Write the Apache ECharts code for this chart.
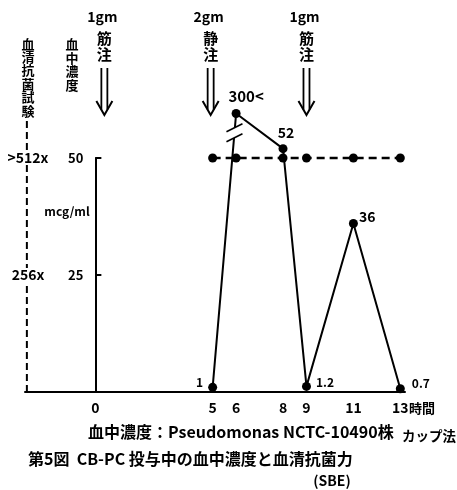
<!DOCTYPE html>
<html><head><meta charset="utf-8">
<script src="https://cdn.jsdelivr.net/npm/echarts@6/dist/echarts.min.js"></script>
<style>html,body{margin:0;padding:0;background:#fff}#c{width:457px;height:490px}</style>
</head><body><div id="c"></div>
<script>
const FONT = '"Noto Sans CJK JP", "Noto Sans", sans-serif';

// ---- data ----
// hours after the first dose
const hours = [5, 6, 8, 9, 11, 13];
// blood concentration, mcg/ml  (300 is off scale: "300<")
const bloodConc = [1, 300, 52, 1.2, 36, 0.7];
const bloodLabels = ['1', '300<', '52', '1.2', '36', '0.7'];
// serum antibacterial titre at the same times
const serumHours = [5, 6, 8, 9, 11, 13];
const serumTitre = ['>512x', '>512x', '>512x', '>512x', '>512x', '>512x'];
// titre scale labels and the level they share with the mcg/ml scale
const titreTicks = ['256x', '>512x'];
const titreLevels = [25, 50];
// x tick labels (hours)
const xTickLabels = [0, 5, 6, 8, 9, 11, 13];
// doses
const doseHours = [0, 5, 9];
const doseAmount = ['1gm', '2gm', '1gm'];
const doseRoute = ['筋注', '静注', '筋注'];

// ---- layout / style constants ----
const X_MIN = -3, X_MAX = 13.2;
const GRID = {left:25, right:52, top:158, bottom:98};
const PLOT_W = 457 - GRID.left - GRID.right;
const Y_AXIS_OFFSET = -(0 - X_MIN) * PLOT_W / (X_MAX - X_MIN); // puts mcg/ml axis at hour 0
const OFF_SCALE_POS = 59.5;        // where an off-scale value is drawn (above the break)
const SERUM_AXIS_HOUR = -2.92;     // position of dashed serum-titre axis
const SERUM_AXIS_TOP = 58;
const DOSE_NUDGE = [9, -2, 0];
const labelPlacement = [
  {position:'left', distance:5, offset:[0,-5], fontSize:12},
  {position:'top', distance:5, offset:[10,0], fontSize:15},
  {position:'top', distance:4, offset:[3,0], fontSize:14},
  {position:'right', distance:5, offset:[0,-4], fontSize:12},
  {position:'right', distance:1, offset:[0,-7], fontSize:14},
  {position:'right', distance:7, offset:[0,-5], fontSize:12}
];

const bloodPlot = bloodConc.map(v => v > 100 ? OFF_SCALE_POS : v);
const bloodData = hours.map((h, i) => ({
  value: [h, bloodPlot[i]],
  label: Object.assign({show:true, color:'#000', fontFamily:FONT, fontWeight:'bold',
    formatter: () => bloodLabels[i]}, labelPlacement[i])
}));
const serumData = serumHours.map((h, i) => [h, titreLevels[titreTicks.indexOf(serumTitre[i])]]);

const chart = echarts.init(document.getElementById('c'));

function txt(s, x, y, size, align, valign) {
  return {type:'text', x:x, y:y, silent:true, style:{text:s, fill:'#000', fontSize:size, fontFamily:FONT,
    fontWeight:'bold',
    align:align||'center', textAlign:align||'center',
    verticalAlign:valign||'middle', textVerticalAlign:valign||'middle'}};
}
function vtxt(s, x, y, size, lh) {
  const t = txt(s.split('').join('\n'), x, y, size, 'center', 'top');
  t.style.lineHeight = lh; t.style.textLineHeight = lh;
  return t;
}

const option = {
  animation: false,
  backgroundColor: '#fff',
  grid: {left:GRID.left, right:GRID.right, top:GRID.top, bottom:GRID.bottom, containLabel:false, outerBoundsMode:'none'},
  xAxis: {
    type:'value', min:X_MIN, max:X_MAX, interval:1,
    axisLine:{show:true, onZero:false, lineStyle:{color:'#000', width:2}},
    axisTick:{show:false}, splitLine:{show:false},
    axisLabel:{color:'#000', fontSize:14, fontFamily:FONT, fontWeight:'bold', margin:9,
      showMinLabel:true, showMaxLabel:true,
      formatter: v => { const r = Math.round(v*100)/100; return xTickLabels.indexOf(r) >= 0 ? String(r) : ''; }}
  },
  yAxis: [{
    type:'value', min:0, max:50, interval:25, position:'left', offset:Y_AXIS_OFFSET,
    axisLine:{show:true, onZero:false, lineStyle:{color:'#000', width:2}},
    axisTick:{show:true, inside:true, length:6, lineStyle:{color:'#000', width:2}},
    splitLine:{show:false},
    axisLabel:{color:'#000', fontSize:13, fontFamily:FONT, fontWeight:'bold', margin:12,
      formatter: v => v === 0 ? '' : String(v)}
  }, {
    type:'value', min:0, max:50, interval:25, position:'left', z:5,
    axisLine:{show:false, onZero:false}, axisTick:{show:false}, splitLine:{show:false},
    axisLabel:{color:'#000', fontSize:14, fontFamily:FONT, fontWeight:'bold', margin:-3, align:'center',
      backgroundColor:'#fff', padding:[0,1],
      formatter: v => { const k = titreLevels.indexOf(v); return k >= 0 ? titreTicks[k] : ''; }}
  }],
  series: [
    { // dashed serum titre axis
      type:'line', clip:false, silent:true, symbol:'none', z:1,
      data:[[SERUM_AXIS_HOUR, 0], [SERUM_AXIS_HOUR, SERUM_AXIS_TOP]],
      lineStyle:{color:'#000', width:2, type:[7,4]}
    },
    { // serum antibacterial titre
      type:'line', clip:false, silent:true, symbol:'circle', symbolSize:9,
      itemStyle:{color:'#000'},
      lineStyle:{color:'#000', width:2.5, type:[8,5]},
      data: serumData
    },
    { // blood concentration
      type:'line', clip:false, silent:true, symbol:'circle', symbolSize:9,
      itemStyle:{color:'#000'},
      lineStyle:{color:'#000', width:2},
      data: bloodData
    },
    { // break marks on the off-scale segment
      type:'custom', clip:false, silent:true, z:6, data:[[0,0]],
      renderItem: (p, api) => {
        const a = api.coord([hours[0], bloodPlot[0]]), b = api.coord([hours[1], bloodPlot[1]]);
        const t = 0.93;
        const cx = a[0] + (b[0]-a[0])*t, cy = a[1] + (b[1]-a[1])*t;
        const dx = 8, dy = -4, g = 5;
        const L1 = [[cx-dx, cy+g-dy], [cx+dx, cy+g+dy]];
        const L2 = [[cx-dx, cy-g-dy], [cx+dx, cy-g+dy]];
        const st = {stroke:'#000', lineWidth:1.6, fill:null};
        return {type:'group', children:[
          {type:'polygon', shape:{points:[L1[0], L1[1], L2[1], L2[0]]}, style:{fill:'#fff'}},
          {type:'line', shape:{x1:L1[0][0], y1:L1[0][1], x2:L1[1][0], y2:L1[1][1]}, style:st},
          {type:'line', shape:{x1:L2[0][0], y1:L2[0][1], x2:L2[1][0], y2:L2[1][1]}, style:st}
        ]};
      }
    },
    { // dose annotations
      type:'custom', clip:false, silent:true, z:6,
      data: doseHours.map((h, i) => [h, i]),
      renderItem: (p, api) => {
        const i = api.value(1);
        const x = api.coord([api.value(0), 0])[0] + DOSE_NUDGE[i];
        const route = doseRoute[i].split('');
        const st = {stroke:'#000', lineWidth:1.8, fill:null};
        return {type:'group', children:[
          txt(doseAmount[i], x-2, 17, 14),
          txt(route[0], x, 38, 15),
          txt(route[1], x, 54, 15),
          {type:'line', shape:{x1:x-3, y1:68, x2:x-3, y2:109.5}, style:st},
          {type:'line', shape:{x1:x+3, y1:68, x2:x+3, y2:109.5}, style:st},
          {type:'polyline', shape:{points:[[x-8,101],[x,115],[x+8,101]]}, style:{stroke:'#000', lineWidth:2, fill:null}}
        ]};
      }
    }
  ],
  graphic: [
    vtxt('血清抗菌試験', 28, 37, 13, 13.4),
    vtxt('血中濃度', 72, 37, 13, 13.8),
    txt('mcg/ml', 67, 211, 12),
    txt('時間', 409, 408, 13, 'left'),
    txt('血中濃度：Pseudomonas NCTC-10490株', 88, 432, 16, 'left'),
    txt('カップ法', 402, 436, 13.5, 'left'),
    txt('第5図  CB-PC 投与中の血中濃度と血清抗菌力', 28, 459, 16, 'left'),
    txt('(SBE)', 332, 481, 14)
  ]
};
chart.setOption(option);
</script></body></html>
